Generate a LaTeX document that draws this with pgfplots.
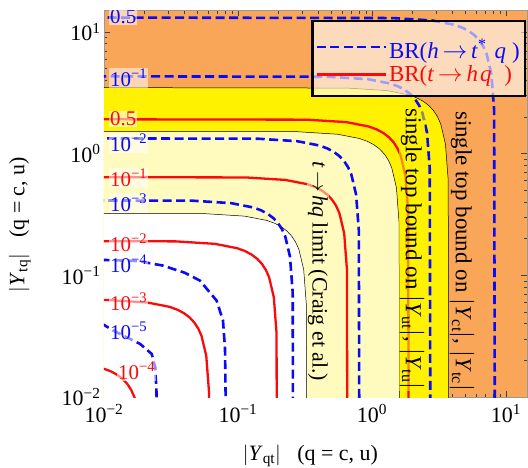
\documentclass[border=0pt]{standalone}
\usepackage{fontspec}
\setmainfont{Liberation Serif}
\usepackage{pgfplots}
\pgfplotsset{compat=1.18}
\definecolor{orng}{RGB}{249,166,89}
\definecolor{lyel}{RGB}{255,250,190}
\definecolor{cblue}{RGB}{10,10,245}
\definecolor{cred}{RGB}{250,10,10}
\tikzset{
  clab/.style={fill=white, fill opacity=0.55, text opacity=1, inner sep=1bp, anchor=west, font=\fontsize{21}{24}\selectfont},
  rlab/.style={rotate=-90, anchor=west, inner sep=1bp, font=\fontsize{23}{26}\selectfont},
  bl/.style={cblue, line width=2.6bp, dash pattern=on 9bp off 4.5bp},
  rd/.style={cred, line width=2.3bp},
}
\begin{document}
\begin{tikzpicture}
\useasboundingbox (-104bp,-71bp) rectangle (424bp,397bp);
\begin{axis}[
  at={(0,0)}, anchor=south west,
  scale only axis, width=423bp, height=386.5bp,
  xmode=log, ymode=log,
  xmin=0.01, xmax=14.35, ymin=0.01, ymax=15,
  axis background/.style={fill=orng},
  axis line style={black!40, line width=0.7bp},
  tick style={black!75, line width=0.5bp},
  major tick length=6bp, minor tick length=3.5bp,
  xtick={0.01,0.1,1,10}, ytick={0.01,0.1,1,10},
  xticklabels={10\textsuperscript{−2},10\textsuperscript{−1},10\textsuperscript{0},10\textsuperscript{1}},
  yticklabels={10\textsuperscript{−2},10\textsuperscript{−1},10\textsuperscript{0},10\textsuperscript{1}},
  minor xtick={0.02,0.03,0.04,0.05,0.06,0.07,0.08,0.09,0.2,0.3,0.4,0.5,0.6,0.7,0.8,0.9,2,3,4,5,6,7,8,9},
  minor ytick={0.02,0.03,0.04,0.05,0.06,0.07,0.08,0.09,0.2,0.3,0.4,0.5,0.6,0.7,0.8,0.9,2,3,4,5,6,7,8,9},
  tick label style={font=\fontsize{22}{25}\selectfont},
  xticklabel style={yshift=-4bp},
  xlabel={$|$\textit{Y}\textsubscript{qt}$|$\ \ \ (q = c, u)},
  ylabel={$|$\textit{Y}\textsubscript{tq}$|$\ \ \ (q = c, u)},
  xlabel style={at={(axis description cs:0.488,-0.153)}, anchor=center, font=\fontsize{22}{26}\selectfont},
  ylabel style={at={(axis description cs:-0.199,0.446)}, anchor=center, font=\fontsize{22}{26}\selectfont},
  legend style={at={(0.997,0.975)}, anchor=north east, draw=black, line width=2.2bp,
    fill=white, fill opacity=0.6, draw opacity=1, text opacity=1,
    font=\fontsize{23}{27}\selectfont, inner xsep=3bp, inner ysep=11bp, row sep=2bp},
  legend cell align=left,
  legend image code/.code={\path (0bp,0bp) -- (69bp,0bp); \draw[#1] (0bp,0bp) -- (43bp,0bp);},
]
% filled regions
\addplot[forget plot, fill=yellow, draw=black, line width=0.5bp] coordinates {(3.76,0.000351)(3.703,0.6093)(3.533,1.2)(3.256,1.755)(3.08,2.013)(2.88,2.256)(2.659,2.482)(2.417,2.689)(2.157,2.875)(1.88,3.04)(1.286,3.298)(0.6527,3.457)(0.000376,3.51)(0.00001,0.00001)};
\addplot[forget plot, fill=lyel, draw=black, line width=0.5bp] coordinates {(1.62,0.000154)(1.595,0.2666)(1.522,0.5253)(1.403,0.768)(1.327,0.8811)(1.241,0.9873)(1.146,1.086)(1.041,1.177)(0.9292,1.258)(0.81,1.33)(0.554,1.443)(0.2812,1.513)(0.000162,1.536)(0.00001,0.00001)};
\addplot[forget plot, fill=white, draw=black, line width=0.5bp] coordinates {(0.329,0.0000326)(0.324,0.05659)(0.3092,0.1115)(0.2849,0.163)(0.2695,0.187)(0.252,0.2096)(0.2326,0.2305)(0.2115,0.2497)(0.1887,0.2671)(0.1645,0.2823)(0.1125,0.3063)(0.05711,0.321)(0.0000329,0.326)(0.00001,0.00001)};
% red contours BR(t -> hq)
\addplot[forget plot, rd] coordinates {(1.89,0.000193)(1.861,0.335)(1.776,0.6601)(1.637,0.965)(1.548,1.107)(1.448,1.241)(1.336,1.365)(1.215,1.478)(1.084,1.581)(0.945,1.671)(0.6464,1.814)(0.3281,1.901)(0.000189,1.93)};
\addplot[forget plot, rd] coordinates {(0.66,0.0000647)(0.65,0.1123)(0.6202,0.2213)(0.5716,0.3235)(0.5407,0.3711)(0.5056,0.4159)(0.4667,0.4575)(0.4242,0.4956)(0.3786,0.53)(0.33,0.5603)(0.2257,0.608)(0.1146,0.6372)(0.000066,0.647)};
\addplot[forget plot, rd] coordinates {(0.197,0.0000193)(0.194,0.0335)(0.1851,0.06601)(0.1706,0.0965)(0.1614,0.1107)(0.1509,0.1241)(0.1393,0.1365)(0.1266,0.1478)(0.113,0.1581)(0.0985,0.1671)(0.06737,0.1814)(0.0342,0.1901)(0.0000197,0.193)};
\addplot[forget plot, rd] coordinates {(0.0617,0.00000636)(0.06076,0.01104)(0.05798,0.02175)(0.05343,0.0318)(0.05054,0.03648)(0.04726,0.04088)(0.04363,0.04497)(0.03966,0.04872)(0.03539,0.0521)(0.03085,0.05508)(0.0211,0.05977)(0.01071,0.06263)(0.00000617,0.0636)};
\addplot[forget plot, rd] coordinates {(0.0195,0.000002)(0.0192,0.003455)(0.01832,0.006806)(0.01689,0.00995)(0.01597,0.01141)(0.01494,0.01279)(0.01379,0.01407)(0.01253,0.01524)(0.01119,0.0163)(0.00975,0.01723)(0.00667,0.0187)(0.00339,0.0196)(0.000002,0.0199)};
% blue contours BR(h -> t* q)
\addplot[forget plot, bl] coordinates {(0.000828,13.2)(1.437,13)(2.832,12.4)(4.14,11.43)(4.749,10.81)(5.322,10.11)(5.855,9.334)(6.342,8.485)(6.783,7.572)(7.17,6.6)(7.781,4.514)(8.154,2.292)(8.28,0.00132)};
\addplot[forget plot, bl] coordinates {(0.000274,4.35)(0.4757,4.284)(0.9371,4.088)(1.37,3.767)(1.572,3.564)(1.761,3.332)(1.937,3.076)(2.099,2.796)(2.245,2.495)(2.373,2.175)(2.575,1.488)(2.698,0.7552)(2.74,0.000435)};
\addplot[forget plot, bl] coordinates {(0.000081,1.346)(0.1406,1.326)(0.277,1.265)(0.405,1.166)(0.4646,1.103)(0.5207,1.031)(0.5728,0.9518)(0.6205,0.8652)(0.6636,0.7721)(0.7015,0.673)(0.7612,0.4603)(0.7977,0.2337)(0.81,0.000135)};
\addplot[forget plot, bl] coordinates {(0.000026,0.417)(0.04514,0.4107)(0.0889,0.3919)(0.13,0.3611)(0.1491,0.3416)(0.1671,0.3194)(0.1838,0.2949)(0.1992,0.268)(0.213,0.2392)(0.2252,0.2085)(0.2443,0.1426)(0.256,0.07239)(0.26,0.0000417)};
\addplot[forget plot, bl] coordinates {(0.0095,0.134)(0.018,0.131)(0.0275,0.1202)(0.040,0.105)(0.052,0.0905)(0.0693,0.0619)(0.0773,0.0425)(0.0800,0.025)(0.0809,0.0095)(0.0809,0.001)};
\addplot[forget plot, bl] coordinates {(0.0095,0.0405)(0.0117,0.0352)(0.0186,0.0273)(0.0227,0.0226)(0.024,0.0177)(0.0246,0.012)(0.0247,0.0095)(0.0247,0.001)};
% contour labels
\node[clab, text=cblue] at (axis cs:0.0109,13.28) {0.5};
\node[clab, text=cblue] at (axis cs:0.0109,4.19) {10\textsuperscript{−1}};
\node[clab, text=cred] at (axis cs:0.0109,1.93) {0.5};
\node[clab, text=cblue] at (axis cs:0.0109,1.224) {10\textsuperscript{−2}};
\node[clab, text=cred] at (axis cs:0.0109,0.631) {10\textsuperscript{−1}};
\node[clab, text=cblue] at (axis cs:0.0109,0.3935) {10\textsuperscript{−3}};
\node[clab, text=cred] at (axis cs:0.0109,0.1845) {10\textsuperscript{−2}};
\node[clab, text=cblue] at (axis cs:0.0109,0.1241) {10\textsuperscript{−4}};
\node[clab, text=cred] at (axis cs:0.0109,0.0605) {10\textsuperscript{−3}};
\node[clab, text=cblue] at (axis cs:0.0109,0.0349) {10\textsuperscript{−5}};
\node[clab, text=cred] at (axis cs:0.0125,0.01639) {10\textsuperscript{−4}};
% rotated annotations
\begin{scope}
\clip (rel axis cs:0,0) rectangle (rel axis cs:1,1);
\node[rlab] at (axis cs:4.695,2.286) {single top bound on $|$\textit{Y}\textsubscript{ct}$|$, $|$\textit{Y}\textsubscript{tc}$|$};
\node[rlab, fill=yellow, fill opacity=0.55, text opacity=1] at (axis cs:1.988,2.42) {single top bound on $|$\textit{Y}\textsubscript{ut}$|$, $|$\textit{Y}\textsubscript{tu}$|$};
\node[rlab, font=\fontsize{22}{25}\selectfont, fill=lyel, fill opacity=0.55, text opacity=1] at (axis cs:0.395,0.888) {\textit{t}\,$\rightarrow$\,\textit{hq} limit (Craig et al.)};
\end{scope}
% legend
\addlegendimage{bl}
\addlegendentry{\rule{0pt}{24bp}\textcolor{cblue}{BR(\textit{h}\,$\rightarrow$\,\textit{t}\textsuperscript{*}\hspace{8bp}\textit{q}\hspace{6bp})}}
\addlegendimage{rd}
\addlegendentry{\rule[-8bp]{0pt}{1bp}\textcolor{cred}{BR(\textit{t}\,$\rightarrow$\,\textit{h}\hspace{2bp}\textit{q}\hspace{13bp})}}
\end{axis}
\end{tikzpicture}
\end{document}
